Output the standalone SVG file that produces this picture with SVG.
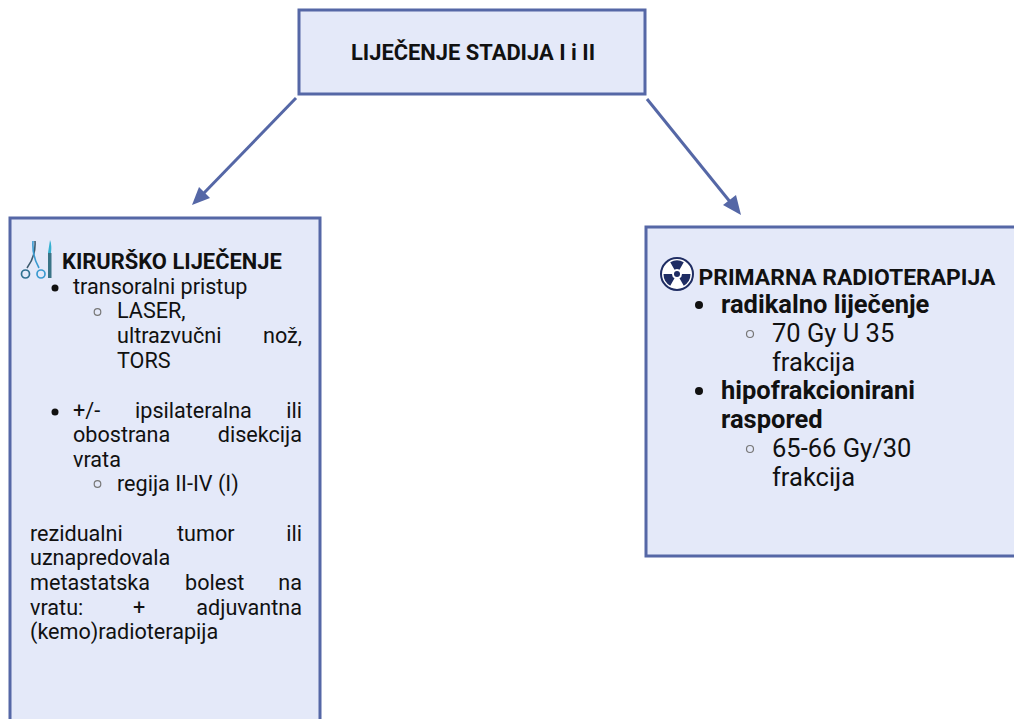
<svg xmlns="http://www.w3.org/2000/svg" width="1014" height="719" viewBox="0 0 1014 719">
<style>
text{font-family:Roboto,"Liberation Sans",sans-serif;fill:#111}
.box{fill:#e4e9f9;stroke:#5567a6;stroke-width:3}
.s{font-size:21.6px}
.b{font-weight:700}
.h{font-size:21.9px;font-weight:700}
.l{font-size:25.5px}
.bul{fill:#111}
.cir{fill:none;stroke:#777;stroke-width:1.2}
.conn{stroke:#5567a6;stroke-width:3;fill:none}
.head{fill:#5567a6}
</style>
<g id="connectors">
<line class="conn" x1="296" y1="98" x2="203" y2="194"/>
<polygon class="head" points="192,205 199,187 210,198"/>
<line class="conn" x1="647" y1="99" x2="731" y2="203"/>
<polygon class="head" points="741,215 723,205 736,195"/>
</g>
<g id="top">
<rect class="box" x="299" y="10" width="346" height="84"/>
<text x="473" y="59.500" text-anchor="middle" class="b" style="font-size:21.900px">LIJEČENJE STADIJA I i II</text>
</g>
<g id="left">
<rect class="box" x="10" y="218" width="310" height="520"/>
<g id="icon-surgery" fill="none">
<path d="M35 241Q36 256 27 268" stroke="#3d5a6e" stroke-width="1.600"/>
<path d="M33 241Q32 256 39 268" stroke="#3a9ad0" stroke-width="1.600"/>
<circle cx="25.500" cy="274" r="4" stroke="#2f6f8f" stroke-width="1.700"/>
<circle cx="41" cy="274" r="4" stroke="#3a9ad0" stroke-width="1.700"/>
<path d="M50 240q2 5 1 13h-3z" fill="#35b0d0"/>
<rect x="48" y="253" width="3.500" height="25" fill="#3a7487"/>
</g>
<text x="62" y="268.500" class="h">KIRURŠKO LIJEČENJE</text>
<circle class="bul" cx="55" cy="288" r="3.500"/>
<text x="73" y="293.500" class="s">transoralni pristup</text>
<circle class="cir" cx="97.500" cy="312" r="3.300"/>
<text x="117" y="318" class="s">LASER,</text>
<text x="117" y="343" class="s">ultrazvučni</text>
<text x="302" y="343" class="s" text-anchor="end">nož,</text>
<text x="117" y="367.500" class="s">TORS</text>
<circle class="bul" cx="55" cy="412" r="3.500"/>
<text x="73" y="417.500" class="s">+/-</text>
<text x="135" y="417.500" class="s">ipsilateralna</text>
<text x="302" y="417.500" class="s" text-anchor="end">ili</text>
<text x="73" y="442" class="s">obostrana</text>
<text x="302" y="442" class="s" text-anchor="end">disekcija</text>
<text x="73" y="466.500" class="s">vrata</text>
<circle class="cir" cx="97.500" cy="484" r="3.300"/>
<text x="117" y="490.500" class="s">regija II-IV (I)</text>
<text x="30" y="540.500" class="s">rezidualni</text>
<text x="177" y="540.500" class="s">tumor</text>
<text x="302" y="540.500" class="s" text-anchor="end">ili</text>
<text x="30" y="565" class="s">uznapredovala</text>
<text x="30" y="590" class="s">metastatska</text>
<text x="185" y="590" class="s">bolest</text>
<text x="302" y="590" class="s" text-anchor="end">na</text>
<text x="30" y="614.500" class="s">vratu:</text>
<text x="133" y="614.500" class="s">+</text>
<text x="302" y="614.500" class="s" text-anchor="end">adjuvantna</text>
<text x="30" y="639" class="s">(kemo)radioterapija</text>
</g>
<g id="right">
<rect class="box" x="646" y="227" width="380" height="329"/>
<g id="icon-radiation">
<circle cx="677" cy="274" r="16" fill="#fff" stroke="#1f2d63" stroke-width="2"/>
<path d="M670.250 262.300A13.500 13.500 0 0 1 683.750 262.300L679.500 269.670A5 5 0 0 0 674.500 269.670Z" fill="#1f2d63"/>
<path d="M690.500 274A13.500 13.500 0 0 1 683.750 285.700L679.500 278.330A5 5 0 0 0 682 274Z" fill="#1f2d63"/>
<path d="M670.250 285.700A13.500 13.500 0 0 1 663.500 274H672A5 5 0 0 0 674.500 278.330Z" fill="#1f2d63"/>
<circle cx="677" cy="274" r="3" fill="#1f2d63"/>
</g>
<text x="698.500" y="284.500" class="b" style="font-size:22.900px">PRIMARNA RADIOTERAPIJA</text>
<circle class="bul" cx="699" cy="305" r="4"/>
<text x="721" y="312.500" class="b l">radikalno liječenje</text>
<circle class="cir" cx="750" cy="334" r="3.500"/>
<text x="772" y="341.500" class="l">70 Gy U 35</text>
<text x="772" y="370.500" class="l">frakcija</text>
<circle class="bul" cx="699" cy="391" r="4"/>
<text x="721" y="398.500" class="b l">hipofrakcionirani</text>
<text x="721" y="427.500" class="b l">raspored</text>
<circle class="cir" cx="750" cy="449" r="3.500"/>
<text x="772" y="456.500" class="l">65-66 Gy/30</text>
<text x="772" y="485.500" class="l">frakcija</text>
</g>
</svg>
